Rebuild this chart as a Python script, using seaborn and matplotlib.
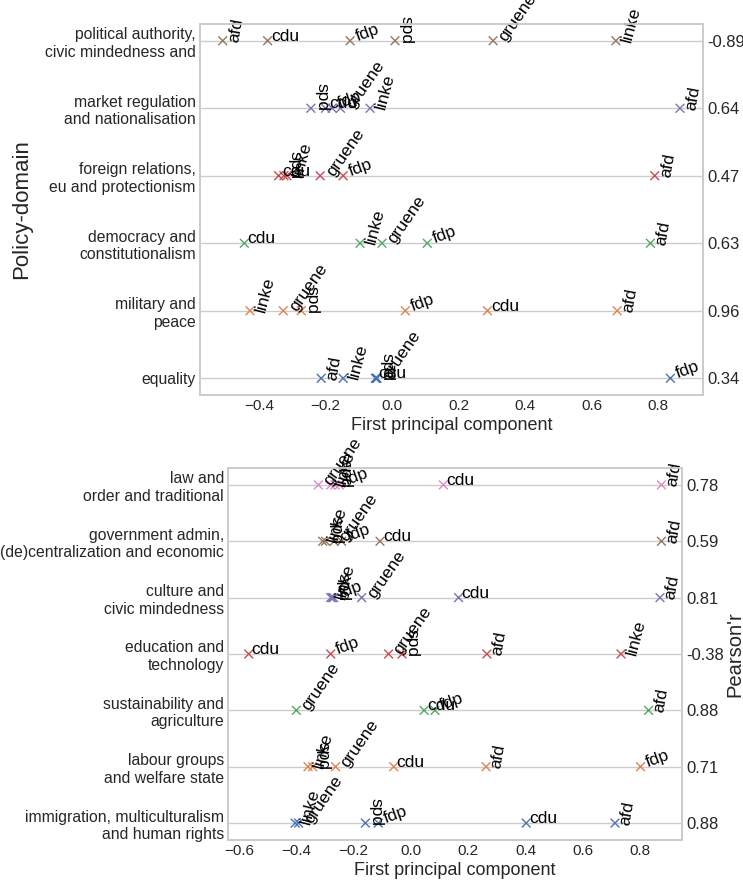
import matplotlib
matplotlib.use("Agg")
import matplotlib.pyplot as plt
import numpy as np
import pandas as pd
import seaborn as sns

parties = ["afd", "cdu", "fdp", "gruene", "linke", "spd"]
rotations = {"afd": 80, "cdu": 0, "fdp": 20, "gruene": 55, "linke": 75, "spd": 270}

# upper panel, listed top to bottom
top_domains = ["political authority,\ncivic mindedness and",
               "market regulation\nand nationalisation",
               "foreign relations,\neu and protectionism",
               "democracy and\nconstitutionalism",
               "military and\npeace",
               "equality"]
top_r = ["-0.89", "0.64", "0.47", "0.63", "0.96", "0.34"]
top_pc = [[-0.509, -0.374, -0.126, 0.304, 0.673, 0.009],
          [0.866, -0.200, -0.180, -0.155, -0.066, -0.244],
          [0.790, -0.341, -0.147, -0.216, -0.316, -0.325],
          [0.777, -0.444, 0.106, -0.030, -0.096, np.nan],
          [0.677, 0.287, 0.040, -0.327, -0.427, -0.273],
          [-0.213, -0.050, 0.837, -0.045, -0.147, -0.048]]

# lower panel, listed top to bottom
bottom_domains = ["law and\norder and traditional",
                  "government admin,\n(de)centralization and economic",
                  "culture and\ncivic mindedness",
                  "education and\ntechnology",
                  "sustainability and\nagriculture",
                  "labour groups\nand welfare state",
                  "immigration, multiculturalism\nand human rights"]
bottom_r = ["0.78", "0.59", "0.81", "-0.38", "0.88", "0.71", "0.88"]
bottom_pc = [[0.874, 0.113, -0.250, -0.323, -0.280, -0.265],
             [0.874, -0.108, -0.242, -0.268, -0.308, -0.298],
             [0.869, 0.166, -0.270, -0.172, -0.280, -0.275],
             [0.265, -0.566, -0.280, -0.078, 0.733, -0.031],
             [0.829, 0.046, 0.084, -0.400, np.nan, np.nan],
             [0.262, -0.060, 0.801, -0.263, -0.359, -0.343],
             [0.712, 0.402, -0.114, -0.392, -0.404, -0.159]]

sns.set_theme(style="whitegrid")
plt.rcParams["font.family"] = ["Liberation Sans", "DejaVu Sans"]


def panel(ax, domains, pc, r):
    n = len(domains)
    rows = []
    for i, (dom, vals) in enumerate(zip(domains, pc)):
        for party, v in zip(parties, vals):
            if not np.isnan(v):
                rows.append({"domain": dom, "row": n - 1 - i, "pc": v, "party": party})
    df = pd.DataFrame(rows)
    order = domains[::-1]
    sns.scatterplot(data=df, x="pc", y="row", hue="domain", hue_order=order,
                    palette="deep", marker="x", s=40, linewidth=1, legend=False, ax=ax)
    for _, d in df.iterrows():
        ax.text(d["pc"] + 0.01, d["row"], d["party"], rotation=rotations[d["party"]],
                fontsize=12.5, color="black")
    ax.set_yticks(range(n))
    ax.set_yticklabels(order, fontsize=11.3)
    ax.grid(axis="x", visible=False)
    ax.tick_params(axis="both", length=0, pad=3)
    ax.tick_params(axis="x", labelsize=11)
    ax.set_xlabel("First principal component", fontsize=13, labelpad=3)
    ax.set_ylabel("")
    ax2 = ax.twinx()
    ax2.set_ylim(ax.get_ylim())
    ax2.set_yticks(range(n))
    ax2.set_yticklabels(r[::-1], fontsize=12)
    ax2.tick_params(axis="y", length=0, pad=3)
    ax2.grid(False)
    for sp in ax2.spines.values():
        sp.set_color("0.8")
    return ax2


fig = plt.figure(figsize=(7.43, 8.84), dpi=100)
ax_top = fig.add_axes([0.269, 0.553, 0.677, 0.42])
ax_bot = fig.add_axes([0.307, 0.0498, 0.611, 0.4208])

panel(ax_top, top_domains, top_pc, top_r)
ax_top.set_ylabel("Policy-domain", fontsize=16, labelpad=9)
ax2b = panel(ax_bot, bottom_domains, bottom_pc, bottom_r)
ax2b.set_ylabel("Pearson'r", fontsize=14.5, labelpad=1)

fig.savefig("out.png", dpi=100)
